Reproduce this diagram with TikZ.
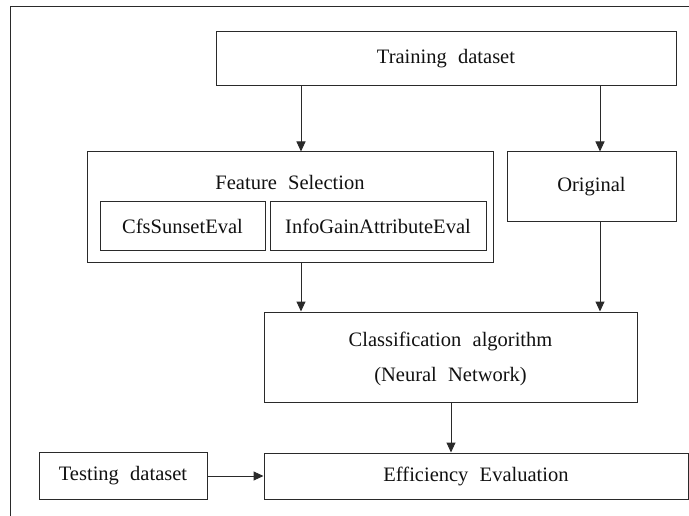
\documentclass[tikz,border=0pt]{standalone}
\usepackage{fontspec}
\setmainfont{Liberation Serif}
\usetikzlibrary{arrows.meta}
\definecolor{lc}{HTML}{2A2A2A}
\definecolor{tc}{HTML}{111111}
\newcommand{\reffont}{\fontsize{20.5}{24}\selectfont\spaceskip=0.55em\relax}
\begin{document}
\begin{tikzpicture}[x=1pt,y=-1pt,
  box/.style={draw=lc,line width=1pt,rectangle,inner sep=0pt,font=\reffont,text=tc,align=center},
  arr/.style={draw=lc,line width=1pt,-{Triangle[length=10pt,width=9pt]}},
  lbl/.style={font=\reffont,text=tc,inner sep=0pt}]
\useasboundingbox (0,0) rectangle (689,516);
% frame (only top and left visible)
\draw[lc,line width=1pt] (689,7) -- (10,7) -- (10,516);
\node[box,minimum width=460pt,minimum height=54pt] (train) at (446,59) {Training dataset};
\node[box,minimum width=406pt,minimum height=111pt] (fs) at (290,207.5) {};
\node[lbl] (fsl) at (290,182) {Feature Selection};
\node[box,minimum width=165pt,minimum height=49pt] (cfs) at (182.5,226.5) {CfsSunsetEval};
\node[box,minimum width=216pt,minimum height=49pt] (info) at (378,226.5) {InfoGainAttributeEval};
\node[box,minimum width=169pt,minimum height=70pt] (orig) at (591.5,187) {Original};
\node[box,minimum width=373pt,minimum height=90pt] (cls) at (450.5,357) {};
\node[lbl] (cls1) at (450.5,341) {Classification algorithm};
\node[lbl] (cls2) at (450.5,377) {(Neural Network)};
\node[box,minimum width=424pt,minimum height=46pt] (eff) at (476,476) {Efficiency Evaluation};
\node[box,minimum width=168pt,minimum height=47pt] (test) at (123,476) {Testing dataset};
\coordinate (xa) at (301,0);
\coordinate (xb) at (600,0);
\coordinate (xc) at (451,0);
\draw[arr] (train.south -| xa) -- (fs.north -| xa);
\draw[arr] (train.south -| xb) -- (orig.north -| xb);
\draw[arr] (fs.south -| xa) -- (cls.north -| xa);
\draw[arr] (orig.south -| xb) -- (cls.north -| xb);
\draw[arr] (cls.south -| xc) -- (eff.north -| xc);
\draw[arr] (test.east) -- (eff.west |- test.east);
\end{tikzpicture}
\end{document}
